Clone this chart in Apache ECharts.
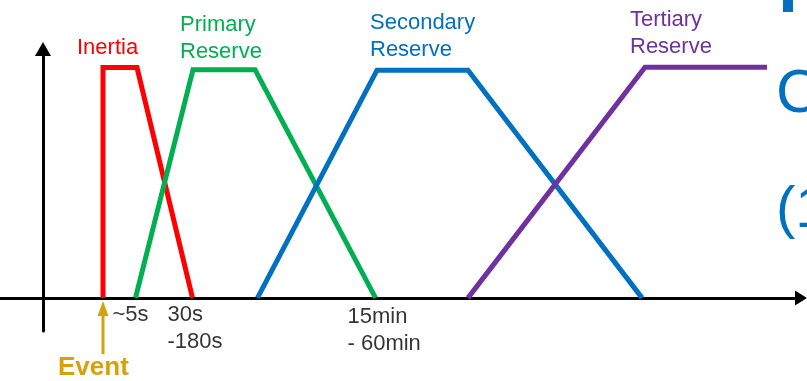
<!DOCTYPE html>
<html>
<head>
<meta charset="utf-8">
<script src="https://cdn.jsdelivr.net/npm/echarts@6/dist/echarts.min.js"></script>
<style>
  html, body { margin: 0; padding: 0; background: #ffffff; }
  #chart { width: 807px; height: 381px; }
</style>
</head>
<body>
<div id="chart"></div>
<script>
// Frequency-response stages after a grid event.
// x: time (schematic units, not to scale), y: activated power relative to the plateau.
const inertia   = [[6.0, 0], [6.0, 1.002], [9.4, 1.002], [14.95, 0]];
const primary   = [[9.25, 0], [15.0, 0.993], [21.2, 0.993], [33.25, 0]];
const secondary = [[21.45, 0], [33.4, 0.991], [42.5, 0.991], [59.9, 0]];
const tertiary  = [[42.5, 0], [60.2, 1.004], [72.4, 1.004]];

const stageNames  = ['Inertia', 'Primary\nReserve', 'Secondary\nReserve', 'Tertiary\nReserve'];
const stageColors = ['#ff0000', '#00b050', '#0070c0', '#7030a0'];

const timeLabels    = ['~5s', '30s\n-180s', '15min\n- 60min'];
const timeLabelAt   = [7.0, 12.5, 30.5];

const eventTime  = 6.0;
const eventShaft = [[eventTime, -0.245], [eventTime, -0.046]];
const eventText  = 'Event';

const chart = echarts.init(document.getElementById('chart'), null, { renderer: 'canvas' });

const FONT = '"Liberation Sans", Arial, sans-serif';

function stageSeries(name, data, color) {
  return {
    name: name,
    type: 'line',
    data: data,
    symbol: 'none',
    z: 3,
    lineStyle: { color: color, width: 5, join: 'miter', cap: 'butt' },
    animation: false
  };
}

// vertical nudge of each time annotation below the axis
const labelDrop = [4, 4, 6.5];

const series = [
  stageSeries(stageNames[0], inertia, stageColors[0]),
  stageSeries(stageNames[1], primary, stageColors[1]),
  stageSeries(stageNames[2], secondary, stageColors[2]),
  stageSeries(stageNames[3], tertiary, stageColors[3]),
  {
    // time annotations under the axis
    type: 'scatter',
    data: timeLabelAt.map((x, i) => ({
      value: [x, 0],
      name: timeLabels[i],
      label: { position: [0, labelDrop[i]] }
    })),
    symbolSize: 1,
    itemStyle: { color: 'rgba(0,0,0,0)' },
    silent: true,
    animation: false,
    z: 5,
    label: {
      show: true,
      align: 'left',
      verticalAlign: 'top',
      formatter: p => p.name,
      color: '#000000',
      fontFamily: FONT,
      fontSize: 22,
      lineHeight: 27
    },
    labelLayout: { hideOverlap: false }
  },
  {
    // event marker arrow
    type: 'line',
    data: [
      { value: eventShaft[0], symbol: 'none' },
      { value: eventShaft[1], symbol: 'triangle', symbolSize: [11, 15] }
    ],
    clip: false,
    z: 4,
    lineStyle: { color: '#d6a20c', width: 3 },
    itemStyle: { color: '#d6a20c' },
    animation: false
  }
];

const titleSpots = [
  { x: 77, y: 34.5 },
  { x: 180, y: 11 },
  { x: 370, y: 9 },
  { x: 630, y: 6 }
];

const graphics = stageNames.map((t, i) => ({
  type: 'text',
  x: titleSpots[i].x,
  y: titleSpots[i].y,
  style: {
    text: t,
    fill: stageColors[i],
    font: '22px ' + FONT,
    lineHeight: 27,
    textAlign: 'left',
    textVerticalAlign: 'top'
  }
}));

graphics.push(
  {
    type: 'text', x: 58, y: 368,
    style: { text: eventText, fill: '#d6a20c', font: 'bold 26px ' + FONT, textAlign: 'left', textVerticalAlign: 'middle' }
  },
  // edge of the neighbouring slide content
  {
    type: 'text', x: 776, y: 95,
    style: { text: 'C', fill: '#0070c0', font: '61px ' + FONT, textAlign: 'left', textVerticalAlign: 'middle' }
  },
  {
    type: 'text', x: 776, y: 211,
    style: { text: '(1', fill: '#0070c0', font: '58px ' + FONT, textAlign: 'left', textVerticalAlign: 'middle' }
  },
  {
    type: 'rect', shape: { x: 783, y: 0, width: 10, height: 12 },
    style: { fill: '#0070c0' }
  }
);

chart.setOption({
  backgroundColor: '#ffffff',
  animation: false,
  grid: { left: 0, right: 6, top: 49, bottom: 50 },
  xAxis: {
    type: 'value',
    min: -4.3,
    max: 75.8,
    axisLine: {
      onZero: true,
      symbol: ['none', 'triangle'],
      symbolSize: [15, 12],
      lineStyle: { color: '#000', width: 3 }
    },
    axisTick: { show: false },
    axisLabel: { show: false },
    splitLine: { show: false }
  },
  yAxis: {
    type: 'value',
    min: -0.1441,
    max: 1.083,
    axisLine: {
      show: true,
      onZero: true,
      symbol: ['none', 'triangle'],
      symbolSize: [16, 14],
      lineStyle: { color: '#000', width: 3 }
    },
    axisTick: { show: false },
    axisLabel: { show: false },
    splitLine: { show: false }
  },
  series: series,
  graphic: graphics
});
</script>
</body>
</html>
